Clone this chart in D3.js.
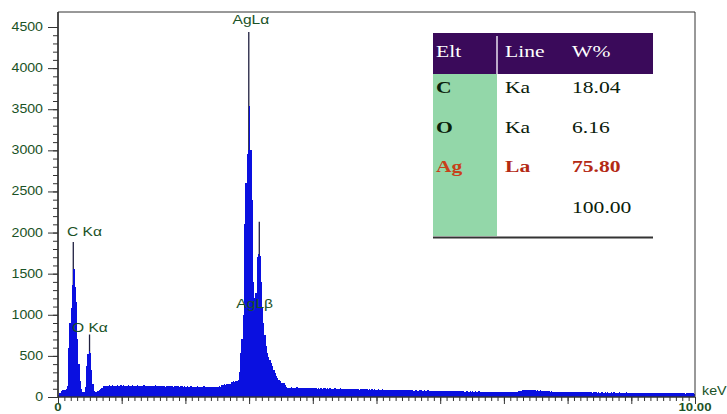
<!DOCTYPE html>
<html><head><meta charset="utf-8">
<script src="https://cdn.jsdelivr.net/npm/d3@7"></script>
<style>html,body{margin:0;padding:0;background:#fff;} svg{display:block;}</style>
</head><body><svg id="c" width="727" height="414"></svg>
<script>
// ---------------- data ----------------
const channelWidthKeV = 0.02;       // counts per 0.02 keV channel, starting at 0 keV
const counts = [
  25,50,70,80,85,90,95,130,600,900,1080,1360,1560,1340,1150,700,400,200,100,65,
  60,120,380,520,560,530,330,160,75,55,60,72,88,100,115,128,132,138,130,136,
  140,134,142,138,131,137,145,139,133,141,136,144,138,130,135,142,137,133,140,136,
  131,139,143,136,130,138,134,141,128,135,139,132,137,130,136,133,140,128,134,131,
  137,129,133,138,127,132,135,129,136,130,126,134,131,128,133,127,130,135,126,129,
  124,130,126,121,128,123,127,120,125,129,122,126,119,124,128,121,125,122,127,120,
  124,121,126,119,125,123,128,122,148,152,158,150,156,162,155,160,188,190,185,200,
  195,210,300,540,700,1000,2100,2600,2950,3000,3540,3000,2400,1400,1210,1260,1700,1740,1720,1400,
  1100,900,760,620,540,490,450,410,380,330,290,260,230,210,190,175,170,165,150,120,
  112,115,108,117,110,114,106,116,111,109,115,107,113,110,105,114,108,112,104,110,
  108,104,111,102,107,103,109,101,106,104,100,107,102,105,99,103,101,106,98,102,
  100,104,97,102,99,95,101,98,96,100,94,99,97,93,98,95,91,97,94,92,
  97,92,95,90,94,91,96,89,93,90,88,94,91,87,92,89,86,91,88,85,
  90,85,89,84,88,86,83,89,85,82,87,84,81,86,83,85,80,84,82,79,
  84,81,79,83,80,82,78,81,79,76,80,77,75,79,76,78,74,77,75,73,
  77,73,76,72,75,71,74,70,73,71,69,73,70,68,72,69,67,71,68,66,
  70,67,65,69,66,68,64,67,65,63,67,64,66,62,65,63,66,61,64,62,
  65,62,64,60,63,61,65,62,59,63,60,64,61,62,59,63,65,61,64,62,
  66,69,73,78,82,86,83,88,85,82,87,84,80,85,82,79,83,78,80,76,
  78,74,76,72,69,67,65,68,65,63,66,62,65,61,64,60,63,61,59,62,
  60,63,59,62,58,61,57,60,58,56,60,57,59,55,58,56,59,55,57,54,
  58,55,57,53,56,54,58,55,52,56,53,55,51,54,57,53,55,52,54,51,
  55,52,54,50,53,51,55,52,49,53,50,52,48,51,54,50,52,49,51,48,
  52,49,51,47,50,48,52,49,46,50,47,49,45,48,51,47,49,46,48,45,
  49,46,48,44,47,45,49,46,43,47,44,46,42,45,48,44,46,43,45,42
];
const peakTipKeV    = [0.24, 0.495, 2.995, 3.16];
const peakTipCounts = [1886, 760, 4440, 2130];
const peakLabelText = ["C K\u03b1", "O K\u03b1", "AgL\u03b1", "AgL\u03b2"];
const peakLabelKeV  = [0.14, 0.22, 2.74, 2.80];
const peakLabelCounts = [1960, 790, 4540, 1085];
const yTickValues = [0,500,1000,1500,2000,2500,3000,3500,4000,4500];
const xTickLabelValues = [0, 10];
const xTickLabelText = ["0", "10.00"];
const xUnit = "keV";
const tableHeader = ["Elt", "Line", "W%"];
const tableElt  = ["C", "O", "Ag", ""];
const tableLine = ["Ka", "Ka", "La", ""];
const tableWt   = ["18.04", "6.16", "75.80", "100.00"];
const tableHighlightRow = 2;

// ---------------- drawing ----------------
const svg = d3.select("#c");
svg.append("rect").attr("width",727).attr("height",414).attr("fill","#fff");

const x = d3.scaleLinear().domain([0,10]).range([58,695]);
const y = d3.scaleLinear().domain([0,4500]).range([397,27]);
const GREEN = "#1a5226";

function stretchText(g, px, py, str, sx, attrs){
  const t = g.append("text").attr("transform",`translate(${px},${py}) scale(${sx},1)`).text(str);
  for (const k in attrs) t.attr(k, attrs[k]);
  return t;
}

// spectrum points
const pts = counts.map((c,i)=>({e:i*channelWidthKeV, c}));
pts.push({e:counts.length*channelWidthKeV, c:counts[counts.length-1]});

// peak tips (thin dark spikes) drawn under the fill
svg.append("g").selectAll("line").data(peakTipKeV).join("line")
  .attr("x1",d=>x(d)).attr("x2",d=>x(d))
  .attr("y1",y(0)).attr("y2",(d,i)=>y(peakTipCounts[i]))
  .attr("stroke","#202040").attr("stroke-width",1.3);

const area = d3.area().curve(d3.curveStepAfter)
  .x(d=>x(d.e)).y0(y(0)).y1(d=>y(d.c));
svg.append("path").datum(pts).attr("d",area)
  .attr("fill","#0a10e0").attr("stroke","none").attr("shape-rendering","crispEdges");

// frame
svg.append("path")
  .attr("d",`M${x(0)},${y(0)}V12H${x(10)}V${y(0)}`)
  .attr("fill","none").attr("stroke","#333").attr("stroke-width",1);

// y axis ticks
const yMinor = d3.range(0,4501,100);
const yAxisMinor = d3.axisLeft(y).tickValues(yMinor).tickSize(5).tickFormat("");
const yAxisMajor = d3.axisLeft(y).tickValues(yTickValues).tickSize(10).tickFormat("");
[yAxisMinor,yAxisMajor].forEach(ax=>{
  const g = svg.append("g").attr("transform",`translate(${x(0)},0)`).call(ax);
  g.select(".domain").attr("stroke","#333").attr("d",`M0,${y(0)}V12`);
  g.selectAll(".tick line").attr("stroke","#333");
});
const yl = svg.append("g");
yTickValues.forEach(v=>{
  stretchText(yl, 43, y(v)+4, String(v), 1.18, {
    "text-anchor":"end","font-family":"Liberation Sans, Arial, sans-serif",
    "font-size":"12px","fill":GREEN});
});

// x axis ticks
const xAxisMinor = d3.axisBottom(x).tickValues(d3.range(0,101).map(d=>d/10)).tickSize(4).tickFormat("");
const xAxisMajor = d3.axisBottom(x).tickValues(d3.range(0,11)).tickSize(7).tickFormat("");
[xAxisMinor,xAxisMajor].forEach(ax=>{
  const g = svg.append("g").attr("transform",`translate(0,${y(0)})`).call(ax);
  g.select(".domain").attr("stroke","#333").attr("d",`M${x(0)},0H${x(10)}`);
  g.selectAll(".tick line").attr("stroke","#333");
});
const xl = svg.append("g");
xTickLabelValues.forEach((v,i)=>{
  stretchText(xl, x(v), 411, xTickLabelText[i], 1.2, {
    "text-anchor":"middle","font-family":"Liberation Sans, Arial, sans-serif",
    "font-size":"11px","font-weight":"bold","fill":GREEN});
});
stretchText(xl, 702, 395, xUnit, 1.1, {
  "font-family":"Liberation Sans, Arial, sans-serif","font-size":"13px","fill":GREEN});

// peak labels
const pl = svg.append("g");
peakLabelText.forEach((t,i)=>{
  stretchText(pl, x(peakLabelKeV[i]), y(peakLabelCounts[i]), t, 1.3, {
    "font-family":"Liberation Sans, Arial, sans-serif","font-size":"12px","fill":GREEN});
});

// table
const tg = svg.append("g");
const tL = 433, tR = 653, tTop = 33, hBot = 74, tBot = 236, colX = [436, 505, 572], sep = 497;
const rowY = [93, 133, 172, 213];
tg.append("rect").attr("x",tL).attr("y",tTop).attr("width",tR-tL).attr("height",hBot-tTop).attr("fill","#3a0a5a");
tg.append("rect").attr("x",tL).attr("y",hBot).attr("width",sep-tL).attr("height",tBot-hBot).attr("fill","#93d7a9");
tg.append("line").attr("x1",sep).attr("x2",sep).attr("y1",tTop+3).attr("y2",hBot)
  .attr("stroke","#e8e0f0").attr("stroke-width",1.5);
tg.append("line").attr("x1",tL).attr("x2",tR).attr("y1",tBot+1.5).attr("y2",tBot+1.5)
  .attr("stroke","#333").attr("stroke-width",2);
const serif = "Liberation Serif, Times New Roman, serif";
tableHeader.forEach((h,i)=>{
  stretchText(tg, colX[i], 57, h, 1.35, {"font-family":serif,"font-size":"16px","fill":"#fff"});
});
tableElt.forEach((v,r)=>{
  const hl = r===tableHighlightRow;
  stretchText(tg, colX[0], rowY[r], v, 1.35, {"font-family":serif,"font-size":"16px","font-weight":"bold",
    "fill": hl ? "#c8401a" : "#0a200a"});
  stretchText(tg, colX[1], rowY[r], tableLine[r], 1.35, {"font-family":serif,"font-size":"16px",
    "font-weight": hl ? "bold":"normal", "fill": hl ? "#b42a14" : "#0a200a"});
  stretchText(tg, colX[2], rowY[r], tableWt[r], 1.35, {"font-family":serif,"font-size":"16px",
    "font-weight": hl ? "bold":"normal", "fill": hl ? "#b42a14" : "#0a200a"});
});
</script></body></html>
